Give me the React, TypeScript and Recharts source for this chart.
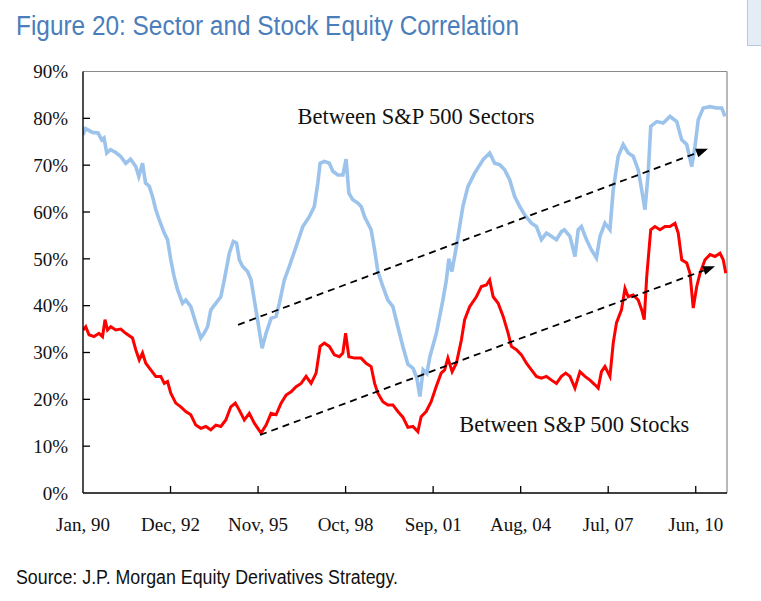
import React from 'react';
import { LineChart, Line, XAxis, YAxis, ReferenceLine } from 'recharts';

// months since Jan 1990
const xTickMonths = [0, 35, 70, 105, 140, 175, 210, 245];
const xTickLabels = ['Jan, 90', 'Dec, 92', 'Nov, 95', 'Oct, 98', 'Sep, 01', 'Aug, 04', 'Jul, 07', 'Jun, 10'];
const yTicks = [0, 10, 20, 30, 40, 50, 60, 70, 80, 90];

const sectorMonths = [
  0, 1, 3.8, 6, 7.5, 8.4, 9.5, 11, 13.1, 15,
  17.1, 19, 21.1, 22.3, 23.8, 25, 26.5, 27.8, 29.1, 30.5,
  32.5, 33.8, 35.1, 36.4, 37.8, 39.8, 41.1, 43.1, 45.1, 47.1,
  48.4, 49.8, 51.1, 53.1, 55.1, 56.5, 58.5, 60.1, 61.4, 62.5,
  63.8, 65.8, 67.2, 68.5, 69.8, 71.6, 73.2, 75.2, 77.2, 78.5,
  80.5, 82.5, 85.2, 87.9, 90.5, 92.5, 93.9, 94.8, 96.5, 98.5,
  99.9, 101.9, 103.9, 105.2, 106.3, 107.9, 109.9, 111.2, 112.6, 115.2,
  116.6, 117.9, 119.9, 121.9, 123.9, 125.9, 127.9, 129.9, 132, 133.5,
  134.7, 136, 137.5, 138.7, 141.3, 143.9, 145.3, 146.3, 147.5, 149.3, 151.9,
  153.9, 156.6, 160, 162.6, 164.6, 166.6, 168.6, 170.6, 172.6, 174.6,
  176.6, 179.3, 181.3, 183.3, 185.3, 187.3, 189.3, 191.3, 192.5, 194.7,
  196.7, 198, 199.3, 201.3, 203.3, 205.3, 206.7, 208.7, 210.7, 212,
  214, 216, 218, 220, 222, 223.4, 224.7, 226, 227, 229.4,
  232, 234.7, 237.4, 239.4, 241.4, 243.4, 244.7, 246, 248, 250.7,
  253.4, 255.4, 256.7,
];
const sectorValues = [
  76.5, 77.8, 77.0, 76.9, 75.4, 75.8, 72.6, 73.3, 72.7, 71.9,
  70.4, 71.3, 69.7, 67.6, 70.4, 66.2, 65.5, 63.3, 60.5, 58.3,
  55.5, 54.1, 49.8, 46.3, 43.4, 40.5, 41.2, 39.8, 36.3, 33.1,
  34.1, 35.5, 39.1, 40.5, 41.9, 45.5, 51.2, 53.7, 53.4, 49.8,
  48.4, 47.3, 45.5, 41.2, 37.0, 30.9, 34.1, 37.3, 37.7, 40.5,
  45.5, 48.4, 52.6, 56.9, 59.0, 61.2, 66.2, 70.4, 70.8, 70.4,
  68.7, 67.9, 67.9, 71.3, 64.0, 62.6, 61.9, 61.2, 59.0, 56.2,
  51.9, 47.3, 44.1, 41.2, 39.8, 35.5, 31.3, 27.5, 26.6, 24.5,
  20.6, 26.3, 25.5, 29.1, 34.1, 41.2, 45.5, 50.0, 47.3, 52.6, 61.2,
  65.4, 68.3, 71.2, 72.6, 70.4, 70.1, 69.0, 66.9, 63.3, 61.2,
  59.4, 57.6, 56.9, 54.1, 55.5, 54.8, 54.1, 55.8, 56.2, 54.8,
  50.5, 56.2, 56.9, 54.1, 51.9, 50.2, 54.8, 57.6, 56.2, 64.7,
  71.9, 74.4, 72.6, 71.9, 69.0, 64.7, 60.5, 68.3, 78.3, 79.3,
  79.0, 80.4, 79.3, 75.4, 74.4, 69.7, 74.0, 79.7, 82.2, 82.5,
  82.2, 82.2, 80.4,
];

const stockMonths = [
  0, 1.1, 2.4, 4.4, 6.4, 7.8, 8.8, 9.8, 11.1, 13.1,
  15.1, 17.1, 19.8, 21.1, 22.5, 23.8, 25.1, 27.1, 29.1, 31.1,
  32.5, 33.8, 35.1, 37.1, 39.1, 41.1, 43.1, 45.1, 47.1, 49.1,
  51.1, 53.1, 55.1, 57.1, 59.1, 60.9, 62.5, 64.5, 66.5, 68.5,
  71.2, 73.2, 75.2, 77.2, 79.2, 81.2, 83.2, 85.2, 87.2, 89.2,
  91.2, 93.2, 94.8, 96.5, 98.5, 100.5, 102.5, 103.9, 105, 106.3,
  108.6, 111.2, 113.2, 115.2, 116.6, 117.9, 119.9, 121.9, 123.9, 125.9,
  127.9, 129.9, 131.9, 133.9, 135.2, 137.2, 139.2, 141.2, 143.2, 144.6,
  145.9, 147.6, 149.3, 151.3, 152.6, 154.6, 157.3, 159.3, 161.3, 162.6,
  164, 166, 168, 170, 171.3, 173.3, 175.3, 177.3, 179.3, 181.3,
  183.3, 185.3, 187.3, 189.3, 191.3, 193, 194.7, 196.7, 198.7, 200.7,
  202.7, 204.7, 206, 207.3, 208.7, 210.7, 212, 213.3, 215.3, 216.7,
  218, 220, 222, 223.4, 224.4, 225.4, 227, 228.7, 230.7, 232.7,
  234.7, 236.7, 238, 239.4, 241.4, 242.7, 244, 245.4, 246.7, 248.7,
  250.7, 252.7, 254.7, 256, 257,
];
const stockValues = [
  34.8, 35.5, 33.8, 33.4, 34.1, 33.4, 37.0, 34.8, 35.5, 34.8,
  35.0, 34.1, 33.1, 30.6, 28.4, 29.9, 27.7, 26.3, 24.9, 24.9,
  23.4, 23.8, 21.3, 19.2, 18.4, 17.4, 16.7, 14.5, 13.8, 14.2,
  13.5, 14.5, 14.2, 15.6, 18.4, 19.2, 17.7, 15.6, 17.0, 14.9,
  12.8, 14.5, 17.0, 16.7, 19.2, 20.9, 21.6, 22.7, 23.4, 24.9,
  23.4, 25.6, 31.3, 32.0, 31.3, 29.5, 29.1, 29.9, 34.1, 29.1,
  28.8, 28.8, 27.7, 27.0, 23.4, 21.3, 19.5, 18.8, 18.8, 17.4,
  16.2, 14.0, 14.2, 13.1, 16.3, 17.4, 19.5, 22.7, 25.6, 26.3,
  28.8, 25.9, 27.7, 32.7, 37.0, 39.8, 41.9, 44.1, 44.4, 45.5,
  41.9, 40.5, 37.7, 34.1, 31.3, 30.6, 29.5, 27.7, 26.3, 24.9,
  24.5, 24.9, 24.1, 23.4, 24.9, 25.6, 24.9, 22.4, 25.9, 24.9,
  24.1, 23.1, 22.4, 25.9, 27.0, 24.9, 32.0, 36.3, 39.1, 43.7,
  41.9, 42.3, 41.2, 39.1, 37.0, 46.2, 56.2, 56.9, 56.2, 56.9,
  56.9, 57.6, 55.5, 49.8, 49.1, 46.9, 39.5, 44.1, 46.9, 49.8,
  50.9, 50.5, 51.2, 49.8, 46.9,
];

// trend arrows (start, end) in [month, %]
const upperTrend = [{ x: 62, y: 35.9 }, { x: 249.9, y: 73.5 }];
const lowerTrend = [{ x: 70.8, y: 12.4 }, { x: 252.7, y: 48.4 }];

const sectorData = sectorMonths.map((m, i) => ({ m, v: sectorValues[i] }));
const stockData = stockMonths.map((m, i) => ({ m, v: stockValues[i] }));

const SERIF = '"Liberation Serif", "Times New Roman", serif';
const NARROW = '"Liberation Sans Narrow", "Arial Narrow", "Liberation Sans", Arial, sans-serif';
const X_MARGIN = 25;
const Y_MARGIN = 15;
const TICK_LEN = 7;

const XTick = (props: any) => {
  const { x, y, payload } = props;
  const axisY = y - X_MARGIN;
  const i = xTickMonths.indexOf(payload.value);
  return (
    <g>
      {i > 0 && <line x1={x} x2={x} y1={axisY} y2={axisY - TICK_LEN} stroke="#000" strokeWidth={1.3} />}
      <text x={x} y={y} dy="0.71em" textAnchor="middle" fontFamily={SERIF} fontSize={19} fill="#111">
        {xTickLabels[i]}
      </text>
    </g>
  );
};

const YTick = (props: any) => {
  const { x, y, payload } = props;
  const axisX = x + Y_MARGIN;
  return (
    <g>
      {payload.value > 0 && payload.value < 90 && (
        <line x1={axisX} x2={axisX + TICK_LEN} y1={y} y2={y} stroke="#000" strokeWidth={1.3} />
      )}
      <text x={x} y={y} dy="0.355em" textAnchor="end" fontFamily={SERIF} fontSize={19} fill="#111">
        {`${payload.value}%`}
      </text>
    </g>
  );
};

const ArrowShape = (p: any) => {
  const { x1, y1, x2, y2 } = p;
  const dx = x2 - x1;
  const dy = y2 - y1;
  const len = Math.hypot(dx, dy) || 1;
  const ux = dx / len;
  const uy = dy / len;
  const hl = 12;
  const hw = 4.5;
  const bx = x2 - ux * hl;
  const by = y2 - uy * hl;
  const px = -uy;
  const py = ux;
  return (
    <g>
      <line x1={x1} y1={y1} x2={bx} y2={by} stroke="#000" strokeWidth={1.8} strokeDasharray="7 5" />
      <polygon points={`${x2},${y2} ${bx + px * hw},${by + py * hw} ${bx - px * hw},${by - py * hw}`} fill="#000" />
    </g>
  );
};

export default function App() {
  return (
    <div style={{ position: 'absolute', left: 0, top: 0, width: 761, height: 601, background: '#fff', overflow: 'hidden' }}>
      <div style={{ position: 'absolute', left: 0, top: 0 }}>
        <LineChart width={761} height={560} margin={{ top: 71.5, right: 34, bottom: 27, left: 0 }}>
          <XAxis
            type="number"
            dataKey="m"
            domain={[0, 257.5]}
            ticks={xTickMonths}
            interval={0}
            tickSize={0}
            tickMargin={X_MARGIN}
            tick={<XTick />}
            axisLine={{ stroke: '#000', strokeWidth: 1.4 }}
            height={40}
            allowDataOverflow
          />
          <YAxis
            type="number"
            domain={[0, 90]}
            ticks={yTicks}
            interval={0}
            tickSize={0}
            tickMargin={Y_MARGIN}
            tick={<YTick />}
            axisLine={{ stroke: '#000', strokeWidth: 1.4 }}
            width={83}
            allowDataOverflow
          />
          <ReferenceLine y={90} stroke="#8a8a8a" strokeWidth={1.2} />
          <ReferenceLine x={257.5} stroke="#8a8a8a" strokeWidth={1.2} />
          <Line data={sectorData} dataKey="v" type="linear" stroke="#9CC3EC" strokeWidth={3.6} dot={false} isAnimationActive={false} />
          <Line data={stockData} dataKey="v" type="linear" stroke="#FF0000" strokeWidth={3} dot={false} isAnimationActive={false} />
          <ReferenceLine segment={upperTrend} shape={ArrowShape} ifOverflow="visible" />
          <ReferenceLine segment={lowerTrend} shape={ArrowShape} ifOverflow="visible" />
        </LineChart>
      </div>
      <svg width={761} height={601} style={{ position: 'absolute', left: 0, top: 0, pointerEvents: 'none' }}>
        <text x={16} y={35} fontFamily={NARROW} fontSize={27} fill="#4A7EBB" textLength={503} lengthAdjust="spacingAndGlyphs">
          Figure 20: Sector and Stock Equity Correlation
        </text>
        <text x={297.5} y={124.3} fontFamily={SERIF} fontSize={22.4} fill="#111" textLength={237} lengthAdjust="spacingAndGlyphs">
          Between S&amp;P 500 Sectors
        </text>
        <text x={459.3} y={432.3} fontFamily={SERIF} fontSize={22.4} fill="#111" textLength={230} lengthAdjust="spacingAndGlyphs">
          Between S&amp;P 500 Stocks
        </text>
        <text x={16} y={584} fontFamily={NARROW} fontSize={19.5} fill="#111" textLength={382} lengthAdjust="spacingAndGlyphs">
          Source: J.P. Morgan Equity Derivatives Strategy.
        </text>
      </svg>
      <div style={{ position: 'absolute', left: 747, top: -1, width: 16, height: 46, background: '#E4ECF6', borderLeft: '1px solid #B9C9DD', borderBottom: '1px solid #B9C9DD' }} />
    </div>
  );
}
